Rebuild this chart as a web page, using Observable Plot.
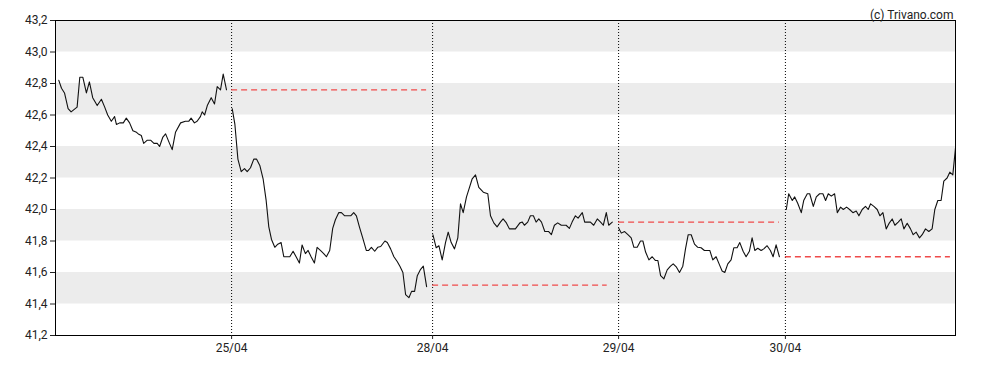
<!DOCTYPE html>
<html>
<head>
<meta charset="utf-8">
<script src="https://cdn.jsdelivr.net/npm/d3@7"></script>
<script src="https://cdn.jsdelivr.net/npm/@observablehq/plot@0.6"></script>
<style>
  html, body { margin: 0; padding: 0; background: #fff; }
  #chart svg { display: block; }
</style>
</head>
<body>
<div id="chart"></div>
<script>
// ---- data (t = intraday time slot, v = price) ----
const day1 = [[1.1,42.82],[2,42.77],[3,42.74],[4.2,42.64],[5.2,42.62],[7.2,42.65],[8.1,42.84],[9.1,42.84],[10.3,42.74],[11.3,42.81],[12.4,42.71],[13.9,42.66],[15.3,42.70],[16.4,42.65],[17.4,42.60],[18.6,42.56],[19.7,42.59],[20.3,42.54],[21.4,42.55],[22.6,42.55],[23.6,42.58],[24.7,42.55],[25.8,42.50],[27,42.49],[27.6,42.48],[28.6,42.47],[29.4,42.42],[30.6,42.44],[31.7,42.44],[32.8,42.42],[33.9,42.42],[34.7,42.40],[35.8,42.46],[36.7,42.48],[38,42.42],[38.9,42.38],[40,42.49],[41.7,42.55],[43.3,42.56],[44.4,42.56],[45.2,42.58],[46.3,42.55],[47.2,42.56],[48.3,42.59],[48.9,42.62],[49.7,42.60],[50.6,42.66],[51.9,42.71],[53,42.67],[53.9,42.78],[55,42.76],[55.9,42.86],[57,42.76]];
const day2 = [[58.9,42.64],[59.8,42.54],[60.8,42.32],[61.9,42.24],[63,42.26],[63.9,42.24],[65,42.265],[66.1,42.32],[67,42.32],[68.1,42.28],[69.2,42.195],[70.2,42.06],[71.1,41.89],[72,41.81],[73.1,41.76],[74.1,41.78],[75.2,41.79],[76.1,41.70],[77,41.70],[78.1,41.70],[79.2,41.735],[80.2,41.70],[81.3,41.66],[82.2,41.775],[83.3,41.72],[84.2,41.74],[85.2,41.70],[86.3,41.66],[87.2,41.76],[88.3,41.74],[89.4,41.72],[90.3,41.70],[91.4,41.74],[92.4,41.88],[93.3,41.935],[94.4,41.98],[95.3,41.98],[96.4,41.96],[97.4,41.96],[98.4,41.96],[99.4,41.98],[100.3,41.96],[101.3,41.89],[102.4,41.82],[103.6,41.74],[104.4,41.74],[105.3,41.76],[106.4,41.735],[107.4,41.76],[108.4,41.765],[109.8,41.80],[110.6,41.79],[111.7,41.75],[112.8,41.70],[113.9,41.67],[114.8,41.64],[115.8,41.60],[116.7,41.46],[117.8,41.44],[118.7,41.48],[119.7,41.48],[120.6,41.58],[121.7,41.62],[122.6,41.64],[123.7,41.51]];
const day3 = [[125.8,41.84],[126.9,41.757],[127.8,41.77],[128.9,41.68],[130,41.79],[130.9,41.856],[131.9,41.79],[133,41.75],[134.1,41.82],[135,42.036],[135.9,41.98],[137,42.08],[138,42.14],[138.9,42.195],[140,42.22],[141.1,42.14],[142.6,42.11],[144.1,42.10],[145,41.96],[146.1,41.915],[147.2,41.89],[148.3,41.92],[149.2,41.94],[150.3,41.915],[151.3,41.877],[153.3,41.877],[154.8,41.915],[155.6,41.92],[156.3,41.90],[157.4,41.92],[158.3,41.96],[159.3,41.96],[160.2,41.92],[161.1,41.94],[162,41.92],[163.1,41.86],[164.4,41.86],[165.3,41.84],[166.3,41.90],[167.4,41.915],[168.6,41.90],[170.2,41.90],[171.3,41.88],[172.2,41.92],[173.3,41.96],[174.2,41.945],[175.6,41.98],[176.4,41.92],[178.3,41.92],[179.4,41.90],[180.6,41.94],[181.7,41.92],[182.6,41.90],[183.6,41.98],[184.4,41.90],[185.6,41.92]];
const day4 = [[187.8,41.88],[188.6,41.85],[189.7,41.86],[190.8,41.84],[191.9,41.82],[192.8,41.76],[193.9,41.76],[195,41.80],[195.8,41.80],[196.7,41.73],[197.8,41.68],[198.9,41.70],[200,41.676],[200.8,41.676],[201.7,41.58],[202.8,41.56],[203.9,41.617],[205,41.64],[205.9,41.655],[207,41.634],[208,41.60],[209.1,41.64],[210,41.75],[210.9,41.84],[211.9,41.84],[213,41.78],[214.1,41.76],[215.2,41.757],[216.3,41.74],[218.1,41.74],[219.1,41.68],[220.2,41.70],[221.3,41.65],[222.2,41.61],[223.1,41.60],[224.1,41.655],[225.2,41.68],[226.1,41.757],[227.2,41.757],[228.1,41.79],[229.2,41.735],[230.2,41.70],[231.3,41.735],[232.2,41.82],[233.1,41.74],[234.1,41.754],[235.2,41.74],[236.1,41.75],[237.2,41.77],[238.3,41.74],[239.2,41.70],[240.2,41.776],[241.3,41.70]];
const day5 = [[243.6,42.00],[244.4,42.10],[245.6,42.057],[246.4,42.08],[247.4,42.04],[248.6,41.98],[249.4,42.057],[250.6,42.10],[251.4,42.10],[252.6,42.02],[253.6,42.08],[254.7,42.10],[255.8,42.10],[256.7,42.057],[257.6,42.10],[258.6,42.085],[259.7,42.10],[260.6,41.98],[261.7,42.015],[262.6,42.00],[263.7,42.015],[264.7,42.00],[265.8,41.98],[266.9,41.99],[267.8,41.96],[268.9,42.00],[270,42.02],[270.9,42.00],[271.7,42.036],[272.8,42.02],[273.9,42.00],[274.8,41.96],[275.8,41.98],[276.9,41.877],[277.8,41.91],[278.9,41.94],[279.8,41.90],[280.9,41.92],[281.9,41.94],[282.8,41.877],[283.9,41.913],[285,41.877],[285.9,41.84],[286.9,41.856],[288,41.82],[288.9,41.84],[290,41.877],[291.1,41.86],[292.2,41.877],[293.1,42.00],[294.1,42.057],[295.2,42.057],[296.1,42.18],[297.2,42.20],[298.1,42.237],[299.1,42.22],[300,42.39]];

const days = [day1, day2, day3, day4, day5];
const dayStarts = [58.7, 125.7, 187.7, 243.3];          // session boundaries (time slots)
const dayLabels = ["25/04", "28/04", "29/04", "30/04"];
const refValues = [42.76, 41.52, 41.92, 41.70];          // previous close, days 2..5
const refEnds = [123.7, 183.9, 241.3, 298.3];
const yTicks = [41.2, 41.4, 41.6, 41.8, 42.0, 42.2, 42.4, 42.6, 42.8, 43.0, 43.2];
const bandLows = [43.0, 42.6, 42.2, 41.8, 41.4];

// ---- build tables ----
const lineData = days.flatMap((d, k) => d.map(([t, v]) => ({day: k, t, v})));
const refData = refValues.map((v, i) => ({v, x1: dayStarts[i], x2: refEnds[i]}));
const bands = bandLows.map(lo => ({y1: lo, y2: +(lo + 0.2).toFixed(1)}));
const fmt = d => d.toFixed(1).replace(".", ",");

const chart = Plot.plot({
  width: 988,
  height: 370,
  marginTop: 20,
  marginBottom: 35,
  marginLeft: 55,
  marginRight: 33,
  style: {fontFamily: "Roboto, sans-serif", fontSize: "12px", color: "#222", background: "#fff"},
  x: {domain: [0, 300]},
  y: {domain: [41.2, 43.2]},
  marks: [
    Plot.rect(bands, {y1: "y1", y2: "y2", fill: "#ececec"}),
    Plot.ruleX(dayStarts, {stroke: "#000", strokeDasharray: "1,2", strokeWidth: 1}),
    Plot.ruleY(refData, {y: "v", x1: "x1", x2: "x2", stroke: "#ef4a4a", strokeWidth: 1.3, strokeDasharray: "6,4"}),
    Plot.line(lineData, {x: "t", y: "v", z: "day", stroke: "#111", strokeWidth: 1.1}),
    Plot.frame({stroke: "#000"}),
    Plot.axisY({ticks: yTicks, tickFormat: fmt, tickSize: 5, tickPadding: 3, label: null, fontSize: 12}),
    Plot.axisX({ticks: dayStarts, tickFormat: (d, i) => dayLabels[dayStarts.indexOf(d)], tickSize: 4, tickPadding: 4, label: null, fontSize: 12}),
    Plot.text(["(c) Trivano.com"], {frameAnchor: "top-right", dy: -10, dx: -2, fontSize: 12, fill: "#222"})
  ]
});
document.getElementById("chart").appendChild(chart);
</script>
</body>
</html>
